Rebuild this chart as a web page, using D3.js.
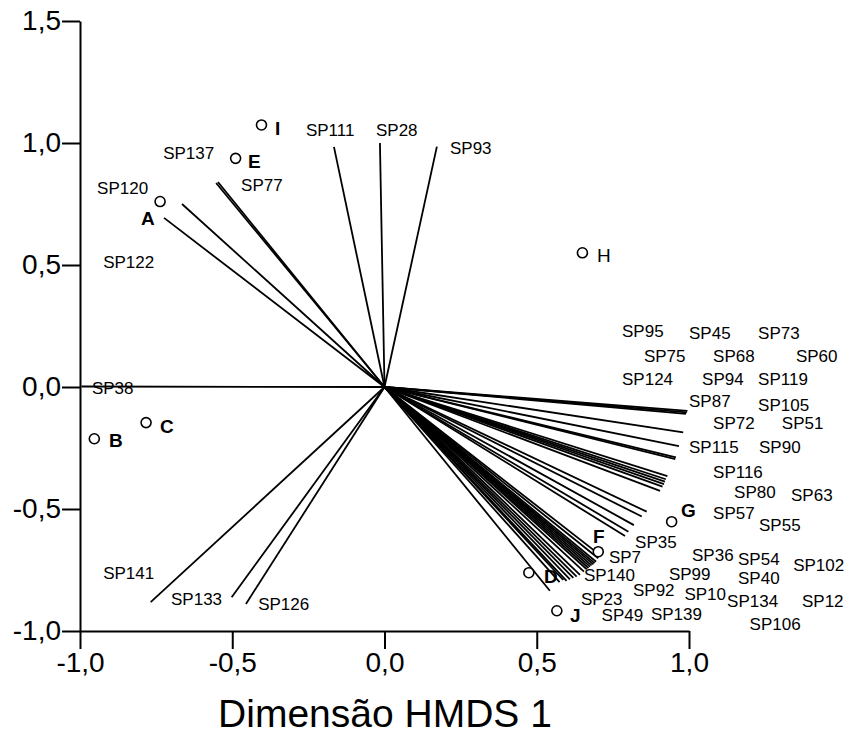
<!DOCTYPE html>
<html><head><meta charset="utf-8">
<script src="https://cdn.jsdelivr.net/npm/d3@7"></script>
<style>body{margin:0;background:#fff}text{font-family:"Liberation Sans",Arial,sans-serif}</style>
</head><body><svg id="c" width="848" height="752"></svg>
<script>
// Species (vectors from origin)
const species = ["SP120","SP122","SP137","SP77","SP111","SP28","SP93","SP38","SP141","SP133","SP126",
"SP95","SP45","SP73","SP75","SP68","SP60","SP124","SP94","SP119","SP87","SP105","SP72","SP51",
"SP115","SP90","SP116","SP80","SP63","SP57","SP55","SP35","SP7","SP36","SP54","SP102","SP140",
"SP99","SP40","SP92","SP10","SP134","SP12","SP23","SP49","SP139","SP106"];
const loadX = [-0.665,-0.724,-0.547,-0.553,-0.166,-0.015,0.172,-0.995,-0.768,-0.502,-0.455,
0.995,0.993,0.990,0.981,0.967,0.957,0.955,0.929,0.924,0.921,0.918,0.913,0.905,
0.861,0.845,0.819,0.801,0.790,0.708,0.702,0.695,0.690,0.686,0.680,0.675,0.670,
0.664,0.655,0.642,0.631,0.620,0.609,0.598,0.587,0.575,0.543];
const loadY = [0.750,0.693,0.840,0.836,0.984,1.000,0.985,0.002,-0.882,-0.862,-0.889,
-0.098,-0.104,-0.110,-0.186,-0.242,-0.288,-0.296,-0.365,-0.378,-0.388,-0.398,-0.408,-0.426,
-0.511,-0.531,-0.566,-0.593,-0.611,-0.689,-0.702,-0.716,-0.722,-0.727,-0.731,-0.736,-0.742,
-0.747,-0.757,-0.770,-0.777,-0.782,-0.788,-0.795,-0.791,-0.800,-0.835];
// Species label anchor (left, baseline) in data units
const labelX = [-0.944,-0.924,-0.727,-0.471,-0.258,-0.028,0.215,-0.961,-0.924,-0.701,-0.415,
0.780,1.000,1.227,0.852,1.079,1.351,0.780,1.043,1.227,1.000,1.227,1.079,1.305,
1.000,1.230,1.079,1.148,1.335,1.079,1.230,0.823,0.737,1.010,1.161,1.342,0.655,
0.934,1.161,0.816,0.985,1.125,1.371,0.645,0.713,0.875,1.199];
const labelY = [0.791,0.488,0.934,0.803,1.029,1.029,0.955,-0.029,-0.787,-0.893,-0.914,
0.205,0.197,0.197,0.102,0.102,0.102,0.008,0.008,0.008,-0.082,-0.098,-0.172,-0.172,
-0.270,-0.270,-0.373,-0.455,-0.467,-0.541,-0.590,-0.660,-0.721,-0.713,-0.730,-0.754,-0.795,
-0.793,-0.807,-0.857,-0.871,-0.902,-0.902,-0.893,-0.959,-0.955,-0.996];
// Sites
const sites = ["A","B","C","D","E","F","G","H","I","J"];
const siteX = [-0.737,-0.953,-0.783,0.474,-0.489,0.702,0.943,0.650,-0.404,0.566];
const siteY = [0.760,-0.212,-0.146,-0.761,0.937,-0.675,-0.552,0.550,1.074,-0.917];
const siteLabelX = [-0.800,-0.905,-0.737,0.524,-0.448,0.685,0.974,0.698,-0.360,0.609];
const siteLabelY = [0.664,-0.246,-0.189,-0.803,0.898,-0.639,-0.533,0.512,1.033,-0.963];
const siteBold = [true,true,true,true,true,true,true,false,true,true];
// Axes
const xTicks = [-1,-0.5,0,0.5,1];
const yTicks = [-1,-0.5,0,0.5,1,1.5];
const xTitle = "Dimensão HMDS 1";

const svg = d3.select("#c");
svg.append("rect").attr("width",848).attr("height",752).attr("fill","#fff");
const x = d3.scaleLinear().domain([-1,1]).range([80,689]);
const y = d3.scaleLinear().domain([-1,1.5]).range([631,21]);
const fmt = v => v.toFixed(1).replace(".", ",");

// vectors
svg.append("g").selectAll("line").data(species).join("line")
  .attr("x1", x(0)).attr("y1", y(0))
  .attr("x2", (d,i)=>x(loadX[i])).attr("y2",(d,i)=>y(loadY[i]))
  .attr("stroke","#000").attr("stroke-width",1.8);

svg.append("g").selectAll("text").data(species).join("text")
  .attr("x",(d,i)=>x(labelX[i])).attr("y",(d,i)=>y(labelY[i]))
  .attr("font-size",17).attr("fill","#000").text(d=>d);

// sites
svg.append("g").selectAll("circle").data(sites).join("circle")
  .attr("cx",(d,i)=>x(siteX[i])).attr("cy",(d,i)=>y(siteY[i])).attr("r",5)
  .attr("fill","#fff").attr("stroke","#000").attr("stroke-width",1.6);
svg.append("g").selectAll("text").data(sites).join("text")
  .attr("x",(d,i)=>x(siteLabelX[i])).attr("y",(d,i)=>y(siteLabelY[i]))
  .attr("font-size",19).attr("font-weight",(d,i)=>siteBold[i]?"bold":"normal")
  .attr("fill","#000").text(d=>d);

// axes
const gy = svg.append("g").attr("transform","translate(80,0)")
  .call(d3.axisLeft(y).tickValues(yTicks).tickFormat(fmt).tickSize(18).tickSizeOuter(0).tickPadding(1));
const gx = svg.append("g").attr("transform","translate(0,631)")
  .call(d3.axisBottom(x).tickValues(xTicks).tickFormat(fmt).tickSize(18).tickSizeOuter(0).tickPadding(3));
[gx,gy].forEach(g=>{
  g.selectAll("path,line").attr("stroke","#000").attr("stroke-width",2);
  g.selectAll("text").attr("font-size",28).attr("fill","#000").attr("font-family",'"Liberation Sans",Arial,sans-serif');
});

svg.append("text").attr("x",385).attr("y",727).attr("text-anchor","middle")
  .attr("font-size",39).attr("fill","#000").text(xTitle);
</script></body></html>
